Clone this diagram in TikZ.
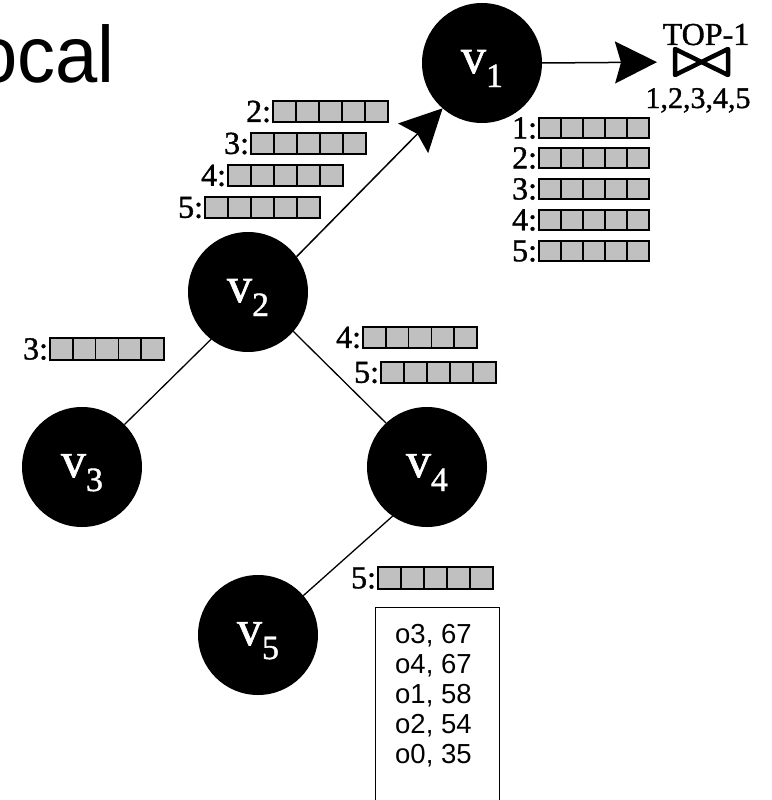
\documentclass[tikz,border=0pt]{standalone}
\usepackage{fontspec}
\setmainfont{Liberation Serif}
\newfontfamily\arialf{Liberation Sans}
\newfontfamily\serb[FakeBold=1.2]{Liberation Serif}
\usetikzlibrary{arrows.meta}
\definecolor{barg}{HTML}{C0C0C0}
\newcommand\barfont{\serb\fontsize{32}{32}\selectfont}
\newcommand\vfont{\serb\fontsize{50}{50}\selectfont}
\newcommand\subfont{\serb\fontsize{34}{34}\selectfont}
\newcommand\vlab[1]{v\raisebox{-14pt}{\subfont #1}}
\newcommand\cellbar[6]{%
  \node[barbox, minimum width=#4*5pt, minimum height=#5pt] (#1) at (#2,#3) {};
  \foreach \k in {1,2,3,4}
    \draw[barline] ([xshift=\k*#4pt]#1.north west) -- ([xshift=\k*#4pt]#1.south west);
  \node[barlab] (#1l) at ([xshift=-2pt]#1.west) {#6:};
}
\tikzset{
  barbox/.style={draw=black, fill=barg, line width=1.8pt, anchor=north west, inner sep=0pt, outer sep=0pt},
  barline/.style={draw=black, line width=1.6pt},
  barlab/.style={font=\barfont, anchor=east, inner sep=0pt, outer sep=0pt},
  vert/.style={circle, fill=black, minimum size=120pt, inner sep=0pt, outer sep=0pt, text=white, font=\vfont, text height=36pt, text depth=16pt},
  edge/.style={draw=black, line width=1.3pt},
  arr/.style={draw=black, line width=1.5pt, -{Stealth[length=42pt, width=42pt, inset=6pt]}},
  listtext/.style={font=\arialf\fontsize{27.5}{27.5}\selectfont, anchor=base west, inner sep=0pt}
}
\begin{document}
\begin{tikzpicture}[x=1pt, y=-1pt]
\useasboundingbox (0,0) rectangle (771,800);
\clip (0,0) rectangle (771,800);

% title
\node[font=\arialf\fontsize{80}{80}\selectfont, anchor=base east, inner sep=0pt] (title) at (115,82) {\scalebox{0.95}[1]{Local}};

% vertices
\node[vert] (v1) at (482,63) {\vlab{1}};
\node[vert] (v2) at (248,292) {\vlab{2}};
\node[vert] (v3) at (82,467) {\vlab{3}};
\node[vert] (v4) at (427,467) {\vlab{4}};
\node[vert] (v5) at (258,635) {\vlab{5}};

% edges
\draw[arr] (v2.36.7) -- (v1.229.7);
\draw[edge] (v2.232.7) -- (v3.45.7);
\draw[edge] (v2.-41.7) -- (v4.133.7);
\draw[edge] (v4.235.8) -- (v5.41.6);

% join symbol
\node[minimum width=53pt, minimum height=26pt, inner sep=0pt, outer sep=0pt] (join) at (701.5,62) {};
\draw[line width=4.5pt, line join=round, line cap=round]
  (join.north west) -- (join.south east) -- (join.north east) -- (join.south west) -- cycle;
\draw[arr, shorten >=18pt] (v1.east) -- (join.west);
\node[font=\serb\fontsize{32}{32}\selectfont, anchor=base, inner sep=0pt] (top) at (706,45) {TOP-1};
\node[font=\serb\fontsize{30}{30}\selectfont, anchor=base, inner sep=0pt] (ids) at (698,108) {1,2,3,4,5};

% bars near v1 arrow
\cellbar{la}{273}{101}{23}{21}{2}
\cellbar{lb}{251}{133}{23}{21}{3}
\cellbar{lc}{228}{165}{23}{21}{4}
\cellbar{ld}{205}{197}{23}{21}{5}

% bars under v1
\cellbar{ra}{539}{118}{22}{20}{1}
\cellbar{rb}{539}{148}{22}{20}{2}
\cellbar{rc}{539}{179}{22}{20}{3}
\cellbar{rd}{539}{210}{22}{20}{4}
\cellbar{re}{539}{241}{22}{20}{5}

% bars near v2
\cellbar{ma}{50}{338}{22.8}{22}{3}
\cellbar{mb}{363}{327}{22.8}{21}{4}
\cellbar{mc}{381}{362}{23}{21}{5}

% bar near v4/v5
\cellbar{na}{378}{567}{23}{22}{5}

% result list
\node[draw=black, line width=1.2pt, minimum width=124pt, minimum height=230pt, anchor=north west, inner sep=0pt] (list) at (375,607) {};
\node[listtext] (t1) at (395,643) {o3, 67};
\node[listtext] (t2) at (395,673) {o4, 67};
\node[listtext] (t3) at (395,703) {o1, 58};
\node[listtext] (t4) at (395,733) {o2, 54};
\node[listtext] (t5) at (395,763) {o0, 35};
\end{tikzpicture}
\end{document}
